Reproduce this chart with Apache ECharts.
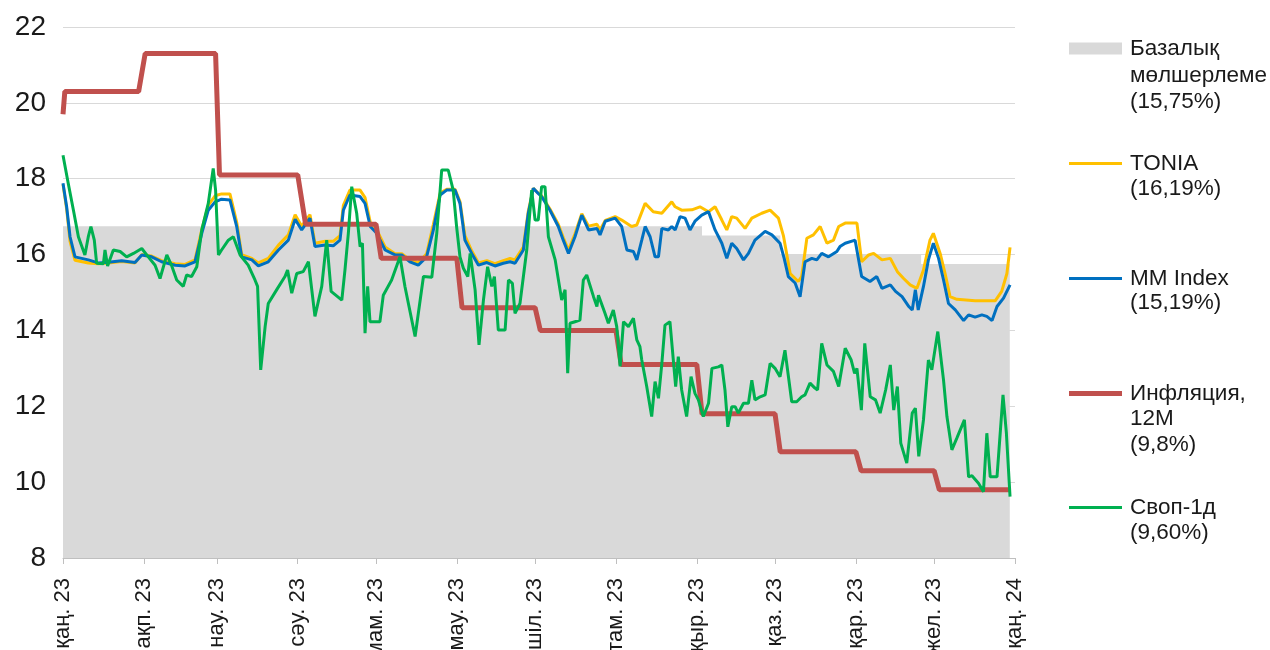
<!DOCTYPE html>
<html><head><meta charset="utf-8">
<script src="https://cdn.jsdelivr.net/npm/echarts@6/dist/echarts.min.js"></script>
<style>html,body{margin:0;padding:0;background:#fff}#c{width:1270px;height:650px}</style>
</head><body><div id="c"></div>
<script>
// Month tick labels (Kazakh)
const monthLabels = ['қаң. 23','ақп. 23','нау. 23','сәу. 23','мам. 23','мау. 23','шіл. 23','там. 23','қыр. 23','қаз. 23','қар. 23','жел. 23','қаң. 24'];

// Day offsets are days since 1 Jan 2023
const baseDays = [0, 245, 275, 329, 363];
const baseVals = [16.75, 16.5, 16.0, 15.75, 15.75];

const inflDays = [0, 0.7, 29, 31.5, 58.5, 60, 90, 93, 120, 122, 151, 153, 181, 183, 212, 214, 243, 245, 273, 275, 304, 306, 334, 336, 363];
const inflVals = [19.7, 20.3, 20.3, 21.3, 21.3, 18.1, 18.1, 16.8, 16.8, 15.9, 15.9, 14.6, 14.6, 14.0, 14.0, 13.1, 13.1, 11.8, 11.8, 10.8, 10.8, 10.3, 10.3, 9.8, 9.8];

const mmDays = [0,1.4,2.7,4.6,9.7,13.5,17.4,22.5,27.6,30.2,34,37.8,43,46.8,50.6,53.2,55.7,58.3,60.8,64,66.6,68.5,72.4,74.9,78.7,82.6,86.4,89,91.5,94.7,96.6,100.5,103.6,106.2,107.5,110,113.9,115.8,117.8,120.3,123.5,127.3,129.9,133,136.2,139.4,142,144.6,147.1,150.3,152.2,154.1,156.7,159.3,162.5,165.6,168.8,171.4,173.3,176.5,178.4,180.3,182.2,183.5,186.7,189.9,191.8,193.8,196.3,198.9,201.5,204.7,205.9,207.9,211.7,214.2,216.2,218.7,220,221.9,223.2,225.1,227,228.3,229.6,232.1,233.4,234.7,236.6,238.5,240.4,242.3,244.9,247.5,250,252.6,254.5,256.4,258.3,260.9,262.8,265.3,269.2,271.8,274.9,276.5,278.1,280.7,282.6,284.5,287.1,289,290.9,293.5,296.7,297.9,299.9,303.7,306.2,309.4,312,314,317.2,319.2,321.7,324.3,325.6,326.8,327.9,329.9,331.8,333.7,335.7,337.6,339.5,342.1,345.3,347.2,349.7,352.3,354.2,356.2,358.1,360.6,363.1];
const mmVals = [17.88,17.26,16.47,15.94,15.86,15.78,15.80,15.84,15.79,15.99,15.94,15.81,15.72,15.70,15.81,16.56,17.17,17.39,17.46,17.44,16.74,15.94,15.86,15.70,15.81,16.12,16.38,16.93,16.65,16.96,16.21,16.25,16.23,16.38,17.17,17.57,17.53,17.35,16.74,16.56,16.12,15.99,15.99,15.81,15.72,15.94,16.65,17.57,17.70,17.70,17.35,16.38,16.03,15.72,15.79,15.70,15.77,15.81,15.77,16.12,17.09,17.75,17.61,17.53,17.17,16.74,16.38,16.03,16.47,17.04,16.65,16.69,16.52,16.88,16.96,16.74,16.12,16.08,15.86,16.38,16.74,16.47,15.94,15.94,16.69,16.65,16.74,16.65,17.0,16.96,16.65,16.88,17.04,17.13,16.65,16.3,15.9,16.3,16.16,15.86,16.03,16.38,16.61,16.52,16.3,15.9,15.42,15.25,14.89,15.81,15.9,15.86,16.03,15.94,16.08,16.21,16.3,16.38,15.42,15.29,15.42,15.11,15.2,15.03,14.89,14.63,14.54,15.07,14.54,15.16,15.86,16.3,15.9,15.33,14.71,14.54,14.26,14.41,14.35,14.41,14.37,14.26,14.63,14.85,15.2];

const toniaDays = [0,1.4,2.7,4.6,9.7,13.5,17.4,22.5,27.6,30.2,34,37.8,43,46.8,50.6,53.2,55.7,58.3,60.8,64,66.6,68.5,72.4,74.9,78.7,82.6,86.4,89,91.5,94.7,96.6,100.5,103.6,106.2,107.5,110,113.9,115.8,117.8,120.3,123.5,127.3,129.9,133,136.2,139.4,142,144.6,147.1,150.3,152.2,154.1,156.7,159.3,162.5,165.6,168.8,171.4,173.3,176.5,178.4,180.3,182.2,183.5,186.7,189.9,191.8,193.8,196.3,198.9,201.5,204.7,205.9,207.9,211.7,214.2,218,220,223.2,226.3,229.6,233.4,234.7,237.2,241.1,244.2,247.5,250,252.6,254.5,256.4,258.3,261.5,264.1,267.9,271.1,274.3,276.2,278.8,281.9,283.2,285.2,287.7,290.3,292.9,295.4,297.4,299.9,304.4,306.2,308.9,310.8,314,317.2,319.9,322.3,324.8,327.4,329.9,332.4,333.7,336.3,338.2,340.1,342.7,349.7,357.4,359.9,361.9,363.1];
const toniaVals = [17.85,17.2,16.35,15.85,15.78,15.76,15.78,15.82,15.78,16.0,15.96,15.84,15.76,15.74,15.86,16.65,17.3,17.55,17.6,17.6,16.85,16.0,15.9,15.78,15.9,16.25,16.52,17.05,16.75,17.05,16.3,16.35,16.35,16.5,17.3,17.7,17.7,17.5,16.85,16.65,16.2,16.02,16.02,15.86,15.78,16.02,16.8,17.62,17.72,17.72,17.4,16.5,16.1,15.78,15.84,15.76,15.84,15.9,15.86,16.2,17.15,17.75,17.62,17.55,17.2,16.8,16.45,16.12,16.55,17.08,16.75,16.8,16.65,16.9,17.0,16.91,16.74,16.78,17.35,17.13,17.09,17.39,17.26,17.17,17.18,17.26,17.13,17.26,16.91,16.65,17.0,16.96,16.69,16.96,17.09,17.17,16.96,16.5,15.5,15.29,15.42,16.43,16.52,16.74,16.3,16.38,16.74,16.83,16.83,15.81,15.99,16.03,15.86,15.9,15.55,15.37,15.2,15.11,15.59,16.38,16.56,16.03,15.5,14.89,14.82,14.78,14.78,15.03,15.5,16.19];

const swapDays = [0,2,4,5.9,8.4,9.7,10.7,12,12.9,15.5,16.1,17.1,19.3,21.9,24.4,27,30.2,32.7,35.3,37.2,39.8,41.7,43.6,46.1,47.4,49.3,51.3,53.2,55.7,57.6,58.5,59.6,60.8,63.4,65.3,67.9,71,73.6,74.6,75.8,77.5,78.7,81.9,85.1,86.1,87.7,89.6,92.1,94.1,96.6,99.2,101.1,102.8,106.9,108.1,109.4,110.7,112.6,113.9,114.8,115.8,116.8,117.7,121.5,122.8,126,129.2,131.1,135,138.2,141.4,143.3,145.2,147.7,149.6,150.9,152.2,153.5,155.2,156.1,158,159.5,161.2,162.8,164.4,165.4,166.9,169.5,170.8,172.3,173.3,175.2,177.8,179.7,181,182.2,183.5,184.8,186.1,188.7,191.2,192.5,193.5,194.4,196.3,198.2,199.5,200.8,203.4,204.7,205.3,207.8,209.1,211,212.3,213.6,214.9,216.8,218.7,220,221.2,221.9,223.8,225.7,227,228.3,229.6,230.8,232.7,234,234.9,235.9,237.2,239.1,240.8,242.3,243.6,245.5,247.5,248.8,251.3,252.6,253.8,254.9,256.4,257.7,258.9,260.9,262.8,264.1,265.3,267.3,269.2,271.1,273,274.9,276.8,279.4,281.3,283.2,284.5,286.4,288.3,289.3,290.9,292.9,295.4,297.4,299.9,302.2,303.5,304.4,306.1,307.4,309.5,311.5,313.3,315.4,317.2,318.5,319.9,321.2,323.5,325.6,326.8,328.1,329.9,331.8,333.1,335.4,337.6,338.9,340.8,342.7,345.6,347.2,348.5,351,352.9,354.2,355.5,358.1,360.4,361.7,363.1];
const swapVals = [18.62,17.88,17.17,16.47,15.99,16.47,16.74,16.38,15.77,15.76,16.12,15.7,16.12,16.08,15.94,16.03,16.16,15.94,15.72,15.37,15.99,15.7,15.33,15.16,15.46,15.42,15.68,16.65,17.35,18.27,17.7,15.99,16.12,16.38,16.47,15.99,15.72,15.33,15.16,12.96,14.1,14.71,15.07,15.42,15.59,14.98,15.5,15.55,15.81,14.37,15.16,16.38,15.03,14.8,15.59,16.56,17.79,17.09,16.21,16.3,13.93,15.16,14.23,14.23,14.93,15.33,15.94,15.16,13.84,15.42,15.4,16.56,18.23,18.23,17.7,16.74,15.94,15.64,15.42,16.03,15.07,13.62,14.8,15.68,15.16,15.42,14.01,14.01,15.33,15.24,14.45,14.71,16.12,17.7,16.91,16.91,17.79,17.79,16.47,15.86,14.8,15.07,12.87,14.19,14.23,14.27,15.33,15.46,14.89,14.63,14.93,14.45,14.19,14.54,14.1,13.05,14.23,14.1,14.32,13.75,13.57,13.22,12.52,11.73,12.65,12.21,13.13,14.14,14.23,13.22,12.52,13.31,12.43,11.73,12.78,12.34,12.17,11.73,12.08,13.0,13.04,13.09,12.43,11.46,11.99,11.99,11.82,12.08,12.08,12.69,12.17,12.25,12.3,13.13,13.0,12.78,13.48,12.12,12.12,12.25,12.3,12.61,12.48,12.43,13.66,13.09,12.92,12.52,13.53,13.22,12.87,13.0,11.9,13.66,12.25,12.17,11.82,12.43,13.09,11.9,12.52,11.03,10.5,11.82,11.95,10.68,11.64,13.22,12.96,13.97,12.69,11.73,10.85,11.16,11.64,10.14,10.17,9.97,9.75,11.29,10.14,10.14,12.3,11.29,9.62];

const yTicks = {min: 8, max: 22, interval: 2};

const DAY = 86400000;
const t0 = Date.UTC(2023, 0, 1);
// month starts as day offsets from 1 Jan 2023
const monthDays = monthLabels.map((_, i) => Math.round((Date.UTC(2023, i, 1) - t0) / DAY));
function toPts(days, vals) { return days.map((d, i) => [d, vals[i]]); }

const FONT = '"Liberation Sans", Arial, sans-serif';
const TXT = '#1a1a1a';
const LFS = 22.5;
const C = {base: '#d9d9d9', tonia: '#ffc000', mm: '#0070c0', infl: '#c0504d', swap: '#00b050'};

const chart = echarts.init(document.getElementById('c'), null, {renderer: 'canvas'});

function lg(name, first, top, h) {
  return {
    data: [name], left: 1069, top: top, padding: 0, icon: 'rect',
    itemWidth: 53, itemHeight: h, selectedMode: false,
    itemStyle: {borderWidth: 0},
    formatter: () => first,
    textStyle: {fontSize: LFS, fontFamily: FONT, color: TXT, padding: [0, 0, 0, 3]}
  };
}
function extra(text, firstCenter) {
  return {type: 'text', x: 1130, y: firstCenter - 12.75, silent: true,
    style: {text: text, font: LFS + 'px ' + FONT, fill: TXT, lineHeight: 25.5, verticalAlign: 'top', align: 'left'}};
}

chart.setOption({
  animation: false,
  backgroundColor: '#fff',
  grid: {left: 63, right: 255, top: 27, bottom: 92, containLabel: false, outerBoundsMode: 'none'},
  xAxis: {
    type: 'value', min: monthDays[0], max: monthDays[12],
    axisLine: {show: true, onZero: false, lineStyle: {color: '#bfbfbf', width: 1}},
    axisTick: {show: true, customValues: monthDays, length: 6, lineStyle: {color: '#bfbfbf'}},
    splitLine: {show: false},
    axisLabel: {
      customValues: monthDays, rotate: 90, fontSize: 22, fontFamily: FONT, color: TXT, margin: 20,
      formatter: function (v) {
        const i = monthDays.indexOf(Math.round(v));
        return i >= 0 ? monthLabels[i] : '';
      }
    }
  },
  yAxis: {
    type: 'value', min: yTicks.min, max: yTicks.max, interval: yTicks.interval,
    axisLine: {show: false}, axisTick: {show: false},
    splitLine: {show: true, lineStyle: {color: '#d9d9d9', width: 1}},
    axisLabel: {fontSize: 28, fontFamily: FONT, color: TXT, margin: 17}
  },
  legend: [
    lg('Базалық мөлшерлеме', 'Базалық', 37, 12),
    lg('TONIA', 'TONIA', 152, 3),
    lg('MM Index', 'MM Index', 267, 3),
    lg('Инфляция, 12M', 'Инфляция,', 382, 5),
    lg('Своп-1д', 'Своп-1д', 496, 3)
  ],
  graphic: [
    extra('мөлшерлеме\n(15,75%)', 76),
    extra('(16,19%)', 189),
    extra('(15,19%)', 303),
    extra('12M\n(9,8%)', 419),
    extra('(9,60%)', 533)
  ],
  series: [
    {name: 'Базалық мөлшерлеме', type: 'line', step: 'end', data: toPts(baseDays, baseVals), symbol: 'none',
     color: C.base, itemStyle: {color: C.base}, lineStyle: {width: 0, color: C.base},
     areaStyle: {color: C.base, opacity: 1, origin: 'start'}, z: 1, silent: true},
    {name: 'TONIA', type: 'line', data: toPts(toniaDays, toniaVals), symbol: 'none',
     color: C.tonia, itemStyle: {color: C.tonia}, lineStyle: {width: 3, color: C.tonia}, z: 2},
    {name: 'MM Index', type: 'line', data: toPts(mmDays, mmVals), symbol: 'none',
     color: C.mm, itemStyle: {color: C.mm}, lineStyle: {width: 3, color: C.mm}, z: 3},
    {name: 'Инфляция, 12M', type: 'line', data: toPts(inflDays, inflVals), symbol: 'none',
     color: C.infl, itemStyle: {color: C.infl}, lineStyle: {width: 5, color: C.infl}, z: 4},
    {name: 'Своп-1д', type: 'line', data: toPts(swapDays, swapVals), symbol: 'none',
     color: C.swap, itemStyle: {color: C.swap}, lineStyle: {width: 3, color: C.swap}, z: 5}
  ]
});
</script></body></html>
